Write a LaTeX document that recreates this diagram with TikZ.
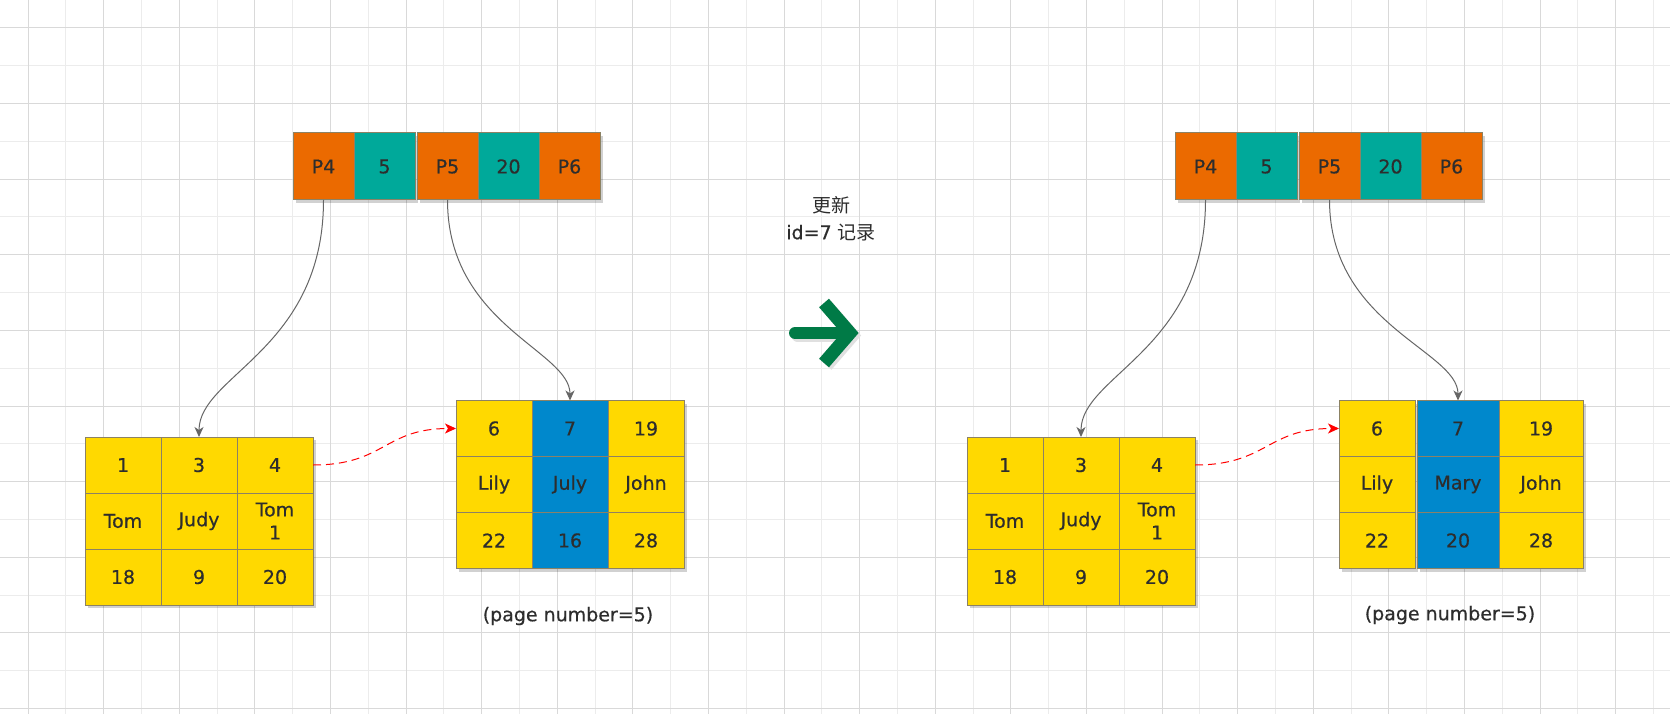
\documentclass[tikz,border=0pt]{standalone}
\usepackage{fontspec}
\setmainfont{DejaVu Sans}[FakeBold=0.5]
\newfontfamily\cjk{Noto Sans CJK SC}
\usepackage{xcolor}
\usepackage{tikz}
\usetikzlibrary{arrows.meta,shadows}

\definecolor{keyorange}{RGB}{235,106,0}
\definecolor{keyteal}{RGB}{0,169,154}
\definecolor{rowyellow}{RGB}{255,217,0}
\definecolor{rowblue}{RGB}{0,136,204}
\definecolor{cellline}{RGB}{140,130,100}
\definecolor{textdark}{RGB}{45,45,45}
\definecolor{linkgray}{RGB}{102,102,102}
\definecolor{arrowgreen}{RGB}{0,122,70}
\definecolor{gridmajor}{RGB}{217,217,217}
\definecolor{gridminor}{RGB}{236,236,236}

\begin{document}
\begin{tikzpicture}[
    x=1pt, y=-1pt,
    cellbase/.style={rectangle, draw=cellline, line width=1pt, inner sep=0pt, outer sep=0pt, text=textdark, align=center, font=\fontsize{19}{23}\selectfont, drop shadow={shadow xshift=3pt, shadow yshift=-3pt, opacity=0.18, fill=black}},
    ptrcell/.style={cellbase, fill=keyorange, minimum width=61pt, minimum height=67pt},
    keycell/.style={cellbase, fill=keyteal, minimum width=61pt, minimum height=67pt},
    leafcell/.style={cellbase, fill=rowyellow, minimum width=76pt, minimum height=56pt},
    hotcell/.style={cellbase, fill=rowblue, minimum width=76pt, minimum height=56pt},
    link/.style={-{Stealth[length=10pt, width=9pt, inset=3pt]}, draw=linkgray, line width=1pt},
    nextlink/.style={-{Stealth[length=11pt, width=10pt, inset=3pt]}, draw=red, dash pattern=on 8pt off 5pt, line width=1pt},
    caption/.style={text=textdark, align=center, font=\fontsize{19}{27}\selectfont}
]
    \useasboundingbox (0,0) rectangle (1670,714);
    \fill[white] (0,0) rectangle (1670,714);

    % Grid
    \foreach \k in {1,3,...,43} \draw[gridminor, line width=1pt] ({28+37.8*\k},0) -- ({28+37.8*\k},714);
    \foreach \k in {1,3,...,17} \draw[gridminor, line width=1pt] (0,{28+37.8*\k}) -- (1670,{28+37.8*\k});
    \foreach \k in {0,2,...,42} \draw[gridmajor, line width=1pt] ({28+37.8*\k},0) -- ({28+37.8*\k},714);
    \foreach \k in {0,2,...,18} \draw[gridmajor, line width=1pt] (0,{28+37.8*\k}) -- (1670,{28+37.8*\k});

    % Root page (before)
    \node[ptrcell] (p4a) at (323.5,166.5) {P4};
    \node[keycell] (k5a) at (384.5,166.5) {5};
    \node[ptrcell] (p5a) at (447.5,166.5) {P5};
    \node[keycell] (k20a) at (508.5,166.5) {20};
    \node[ptrcell] (p6a) at (569.5,166.5) {P6};

    % Left leaf (before)
    \node[leafcell] (la11) at (123,465) {1};
    \node[leafcell] (la12) at (199,465) {3};
    \node[leafcell] (la13) at (275,465) {4};
    \node[leafcell] (la21) at (123,521) {Tom};
    \node[leafcell] (la22) at (199,521) {Judy};
    \node[leafcell] (la23) at (275,521) {Tom\\1};
    \node[leafcell] (la31) at (123,577) {18};
    \node[leafcell] (la32) at (199,577) {9};
    \node[leafcell] (la33) at (275,577) {20};

    % Right leaf, page 5 (before)
    \node[leafcell] (ra11) at (494,428.5) {6};
    \node[hotcell]  (ra12) at (570,428.5) {7};
    \node[leafcell] (ra13) at (646,428.5) {19};
    \node[leafcell] (ra21) at (494,484.5) {Lily};
    \node[hotcell]  (ra22) at (570,484.5) {July};
    \node[leafcell] (ra23) at (646,484.5) {John};
    \node[leafcell] (ra31) at (494,540.5) {22};
    \node[hotcell]  (ra32) at (570,540.5) {16};
    \node[leafcell] (ra33) at (646,540.5) {28};
    \node[caption] (pagea) at (568,616) {(page number=5)};

    % Root page (after)
    \node[ptrcell] (p4b) at (1205.5,166.5) {P4};
    \node[keycell] (k5b) at (1266.5,166.5) {5};
    \node[ptrcell] (p5b) at (1329.5,166.5) {P5};
    \node[keycell] (k20b) at (1390.5,166.5) {20};
    \node[ptrcell] (p6b) at (1451.5,166.5) {P6};

    % Left leaf (after)
    \node[leafcell] (lb11) at (1005,465) {1};
    \node[leafcell] (lb12) at (1081,465) {3};
    \node[leafcell] (lb13) at (1157,465) {4};
    \node[leafcell] (lb21) at (1005,521) {Tom};
    \node[leafcell] (lb22) at (1081,521) {Judy};
    \node[leafcell] (lb23) at (1157,521) {Tom\\1};
    \node[leafcell] (lb31) at (1005,577) {18};
    \node[leafcell] (lb32) at (1081,577) {9};
    \node[leafcell] (lb33) at (1157,577) {20};

    % Right leaf, page 5 (after)
    \node[leafcell] (rb11) at (1377,428.5) {6};
    \node[hotcell, minimum width=82pt]  (rb12) at (1458,428.5) {7};
    \node[leafcell, minimum width=84pt] (rb13) at (1541,428.5) {19};
    \node[leafcell] (rb21) at (1377,484.5) {Lily};
    \node[hotcell, minimum width=82pt]  (rb22) at (1458,484.5) {Mary};
    \node[leafcell, minimum width=84pt] (rb23) at (1541,484.5) {John};
    \node[leafcell] (rb31) at (1377,540.5) {22};
    \node[hotcell, minimum width=82pt]  (rb32) at (1458,540.5) {20};
    \node[leafcell, minimum width=84pt] (rb33) at (1541,540.5) {28};
    \node[caption] (pageb) at (1450,615) {(page number=5)};

    % Pointers from root to leaves
    \draw[link] (p4a.south) .. controls +(0,150) and +(0,-62) .. (la12.north);
    \draw[link] (p5a.south) .. controls +(0,125) and +(0,-50) .. (ra12.north);
    \draw[link] (p4b.south) .. controls +(0,150) and +(0,-62) .. (lb12.north);
    \draw[link] (p5b.south) .. controls +(0,125) and +(0,-50) .. (rb12.north);

    % Leaf chain
    \draw[nextlink] (la13.east) .. controls +(72,0) and +(-72,0) .. (ra11.west);
    \draw[nextlink] (lb13.east) .. controls +(72,0) and +(-72,0) .. (rb11.west);

    % Update step
    \node[caption] (update) at (831,218.5) {{\cjk 更新}\\id=7 {\cjk 记录}};
    \draw[line width=12pt, line cap=round, black!12] (797.5,335.5) -- (850.5,335.5);
    \draw[line width=13pt, line join=miter, black!12] (826.5,305.5) -- (852.5,335.5) -- (826.5,365.5);
    \draw[line width=12pt, line cap=round, arrowgreen] (795,333) -- (848,333);
    \draw[line width=13pt, line join=miter, arrowgreen] (824,303) -- (850,333) -- (824,363);
\end{tikzpicture}
\end{document}
